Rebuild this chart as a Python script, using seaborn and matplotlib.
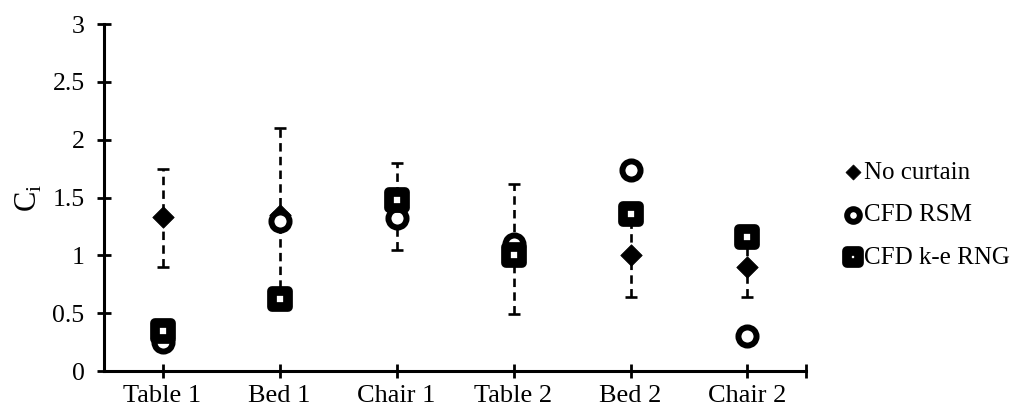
import numpy as np
import pandas as pd
import seaborn as sns
import matplotlib.pyplot as plt

# data
locations = ["Table 1", "Bed 1", "Chair 1", "Table 2", "Bed 2", "Chair 2"]
no_curtain = [1.33, 1.35, 1.40, 1.05, 1.00, 0.90]
no_curtain_low = [0.90, 0.60, 1.05, 0.49, 0.64, 0.64]
no_curtain_high = [1.75, 2.10, 1.80, 1.62, 1.36, 1.16]
cfd_rsm = [0.25, 1.30, 1.32, 1.10, 1.74, 0.30]
cfd_rng = [0.35, 0.62, 1.48, 1.00, 1.36, 1.16]

sns.set_style("white")
plt.rcParams['font.family'] = ['Liberation Serif', 'DejaVu Serif']
plt.rcParams['mathtext.fontset'] = 'custom'
plt.rcParams['mathtext.rm'] = 'Liberation Serif'
plt.rcParams['text.color'] = 'black'
plt.rcParams['axes.labelcolor'] = 'black'

df = pd.DataFrame({"loc": locations, "x": np.arange(len(locations)),
                   "nc": no_curtain, "rsm": cfd_rsm, "rng": cfd_rng})

fig = plt.figure(figsize=(10.24, 4.16), dpi=100)
ax = fig.add_axes([0.1016, 0.108, 0.6855, 0.834])

# error bars on the no-curtain data
lo = df["nc"] - np.array(no_curtain_low)
hi = np.array(no_curtain_high) - df["nc"]
eb = ax.errorbar(df["x"], df["nc"], yerr=[lo, hi], fmt="none", ecolor="black",
                 elinewidth=1.9, capsize=4.5, capthick=1.9, zorder=2)
eb[2][0].set_linestyle((0, (3.2, 2.0)))

sns.scatterplot(data=df, x="x", y="nc", marker="D", s=120, color="black",
                edgecolor="black", linewidth=0.5, label="No curtain", ax=ax, zorder=3)
sns.scatterplot(data=df, x="x", y="rsm", marker="o", s=170, facecolor="white",
                edgecolor="black", linewidth=4.3, label="CFD RSM", ax=ax, zorder=4)
sns.scatterplot(data=df, x="x", y="rng", marker="s", s=130, facecolor="white",
                edgecolor="black", linewidth=7.0, label="CFD k-e RNG", ax=ax, zorder=5)

ax.set_xlim(-0.5, 5.5)
ax.set_ylim(0, 3)
ax.set_xticks(list(range(6)) + [5.5])
ax.set_xticklabels(locations + [""], fontsize=19)
ax.set_yticks([0, 0.5, 1, 1.5, 2, 2.5, 3])
ax.set_yticklabels(["0", "0.5", "1", "1.5", "2", "2.5", "3"], fontsize=18.5)
ax.tick_params(axis="both", direction="inout", length=10, width=2, colors="black",
               bottom=True, left=True)
ax.tick_params(axis="y", pad=9)
ax.tick_params(axis="x", pad=5)
ax.set_xlabel("")
ax.set_ylabel("C$_\\mathregular{i}$", fontsize=22, labelpad=6)

for side in ["top", "right"]:
    ax.spines[side].set_visible(False)
for side in ["left", "bottom"]:
    ax.spines[side].set_linewidth(2.2)
    ax.spines[side].set_color("black")

leg = ax.legend(loc="center left", bbox_to_anchor=(0.823, 0.483), bbox_transform=fig.transFigure,
                frameon=False, fontsize=18, handletextpad=0.0, handlelength=0.85,
                labelspacing=0.8, markerscale=0.7, borderaxespad=0, borderpad=0)

fig.savefig("out.png", dpi=100)
